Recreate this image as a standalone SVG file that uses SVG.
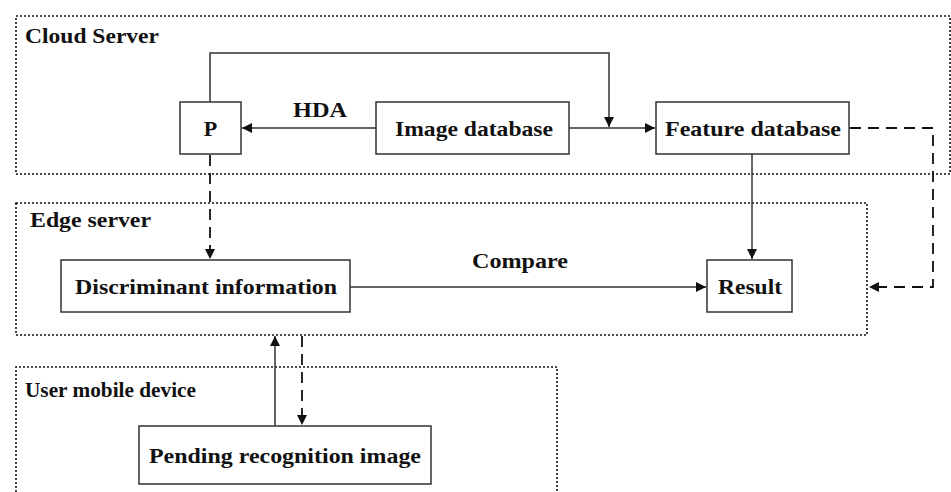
<svg xmlns="http://www.w3.org/2000/svg" width="951" height="492" viewBox="0 0 951 492">
<style>
.zone{fill:none;stroke:#111;stroke-width:1.6;stroke-dasharray:2,2}
.box{fill:#fff;stroke:#333;stroke-width:1.5}
.t{font-family:'Liberation Serif','Times New Roman',Times,serif;font-weight:700;font-size:22px;fill:#111}
.c{text-anchor:middle}
.ln{fill:none;stroke:#333;stroke-width:1.5}
.dash{fill:none;stroke:#111;stroke-width:1.8;stroke-dasharray:11,7}
</style>
<defs>
<marker id="ah" viewBox="0 0 10 10" refX="10" refY="5" markerWidth="10" markerHeight="10" markerUnits="userSpaceOnUse" orient="auto">
<path d="M0,0 L10,5 L0,10 Z" fill="#111"/>
</marker>
</defs>
<g id="zones">
<rect class="zone" x="16" y="16" width="934" height="158"/>
<text class="t" x="25" y="43" textLength="134" lengthAdjust="spacingAndGlyphs">Cloud Server</text>
<rect class="zone" x="16" y="203" width="851" height="132"/>
<text class="t" x="30" y="227" textLength="121" lengthAdjust="spacingAndGlyphs">Edge server</text>
<path class="zone" d="M16,496 V367 H557 V496"/>
<text class="t" x="25" y="397" textLength="171" lengthAdjust="spacingAndGlyphs">User mobile device</text>
</g>
<g id="connectors">
<path class="ln" d="M210,102 V53 H609 V127" marker-end="url(#ah)"/>
<path class="ln" d="M569,128 H655" marker-end="url(#ah)"/>
<path class="ln" d="M376,128 H242" marker-end="url(#ah)"/>
<text class="t c" x="320" y="117" textLength="54" lengthAdjust="spacingAndGlyphs">HDA</text>
<path class="dash" d="M210,155 V259" marker-end="url(#ah)"/>
<path class="ln" d="M752,154 V259" marker-end="url(#ah)"/>
<path class="dash" d="M850,128 H933 V287 H869" marker-end="url(#ah)"/>
<path class="ln" d="M350,287 H706" marker-end="url(#ah)"/>
<text class="t c" x="520" y="268" textLength="96" lengthAdjust="spacingAndGlyphs">Compare</text>
<path class="ln" d="M275,426 V336" marker-end="url(#ah)"/>
<path class="dash" d="M302,336 V425" marker-end="url(#ah)"/>
</g>
<g id="node-p">
<rect class="box" x="180" y="102" width="61" height="52"/>
<text class="t c" x="210.5" y="136">P</text>
</g>
<g id="node-image-db">
<rect class="box" x="376" y="102" width="193" height="52"/>
<text class="t c" x="474" y="136" textLength="158" lengthAdjust="spacingAndGlyphs">Image database</text>
</g>
<g id="node-feature-db">
<rect class="box" x="656" y="102" width="193" height="52"/>
<text class="t c" x="753" y="136" textLength="176" lengthAdjust="spacingAndGlyphs">Feature database</text>
</g>
<g id="node-discriminant">
<rect class="box" x="61" y="260" width="289" height="52"/>
<text class="t c" x="206" y="294" textLength="262" lengthAdjust="spacingAndGlyphs">Discriminant information</text>
</g>
<g id="node-result">
<rect class="box" x="707" y="260" width="85" height="52"/>
<text class="t c" x="750" y="294" textLength="64" lengthAdjust="spacingAndGlyphs">Result</text>
</g>
<g id="node-pending">
<rect class="box" x="139" y="426" width="292" height="58"/>
<text class="t c" x="285" y="463" textLength="272" lengthAdjust="spacingAndGlyphs">Pending recognition image</text>
</g>
</svg>
